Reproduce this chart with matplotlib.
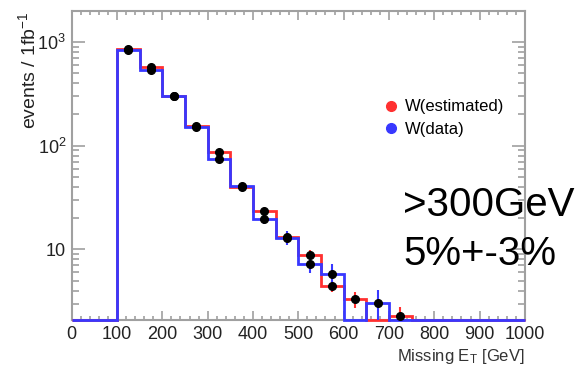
import matplotlib
matplotlib.use('Agg')
import matplotlib.pyplot as plt
from matplotlib.lines import Line2D
from matplotlib.ticker import FixedLocator, FixedFormatter, LogLocator, MultipleLocator, NullFormatter
import numpy as np

plt.rcParams['font.family'] = ['Liberation Sans', 'DejaVu Sans']
plt.rcParams['mathtext.fontset'] = 'custom'
plt.rcParams['mathtext.rm'] = 'Liberation Sans'
plt.rcParams['mathtext.default'] = 'regular'

# 50 GeV bins from 0 to 1000
edges = np.arange(0, 1050, 50)
estimated = [0, 0, 850, 575, 301, 156, 87, 40, 23.4, 13.2, 8.9, 4.4, 3.3, 0, 2.3, 0, 0, 0, 0, 0]
estimated_err = [0, 0, 30, 18, 9, 5, 3, 1.6, 1.2, 0.9, 1.0, 0.5, 0.6, 0, 0.5, 0, 0, 0, 0, 0]
data = [0, 0, 830, 531, 301, 151, 74, 41, 19.6, 12.9, 7.3, 5.75, 0, 3.05, 0, 0, 0, 0, 0, 0]
data_err = [0, 0, 30, 20, 10, 6, 5, 2.5, 1.9, 2.0, 1.4, 1.5, 0, 1.0, 0, 0, 0, 0, 0, 0]

ymin, ymax = 2.07, 1980
red = '#ff3030'
blue = '#3838ff'
frame = '#a0a0a0'

fig = plt.figure(figsize=(5.84, 3.69), dpi=100)
ax = fig.add_axes([0.1228, 0.132, 0.776, 0.838])
ax.set_yscale('log')
ax.set_xlim(0, 1000)
ax.set_ylim(ymin, ymax)

est = np.array(estimated, dtype=float)
dat = np.array(data, dtype=float)
ax.stairs(np.where(est > 0, est, ymin), edges, baseline=None, color=red, lw=2, clip_on=False, zorder=2)
ax.stairs(np.where(dat > 0, dat, ymin), edges, baseline=None, color=blue, lw=2, clip_on=False, zorder=3)

centers = (edges[:-1] + edges[1:]) / 2
for vals, errs, col in [(est, np.array(estimated_err), red), (dat, np.array(data_err), blue)]:
    m = vals > 0
    ax.errorbar(centers[m], vals[m], yerr=errs[m], fmt='o', color='black', ms=5.5,
                ecolor=col, elinewidth=1.5, capsize=0, zorder=4)

for s in ax.spines.values():
    s.set_color(frame)
    s.set_linewidth(1.5)
    s.set_zorder(1)

ax.xaxis.set_major_locator(MultipleLocator(100))
ax.xaxis.set_minor_locator(MultipleLocator(20))
ax.yaxis.set_major_locator(FixedLocator([10, 100, 1000]))
ax.yaxis.set_major_formatter(FixedFormatter(['10', '$10^2$', '$10^3$']))
ax.yaxis.set_minor_locator(LogLocator(base=10, subs=np.arange(2, 10)))
ax.yaxis.set_minor_formatter(NullFormatter())
ax.tick_params(which='both', direction='in', top=True, right=True, color=frame, width=1.2)
ax.tick_params(axis='x', which='major', length=6.5, labelsize=13, pad=4, labelcolor='#222222')
ax.tick_params(axis='x', which='minor', length=3.2)
ax.tick_params(axis='y', which='major', length=9.4, labelsize=13, pad=4, labelcolor='#222222')
ax.tick_params(axis='y', which='minor', length=5)

fig.text(0.048, 0.97, 'events / 1fb$^{-1}$', rotation=90, ha='center', va='top', fontsize=14, color='#222222')
ax.set_xlabel('Missing E$_T$ [GeV]', fontsize=12, color='#333333', ha='right', x=1.0, labelpad=3)

handles = [Line2D([], [], ls='none', marker='o', color=red, ms=7),
           Line2D([], [], ls='none', marker='o', color=blue, ms=7)]
fig.legend(handles, ['W(estimated)', 'W(data)'], loc='upper left',
           bbox_to_anchor=(382.7 / 584, 1 - 99.5 / 369), frameon=False, fontsize=12,
           borderpad=0, borderaxespad=0, handlelength=1, handletextpad=0.35, labelspacing=0.44)

fig.text(403 / 584, 1 - 216 / 369, '>300GeV', fontsize=29, ha='left', va='baseline')
fig.text(403 / 584, 1 - 265 / 369, '5%+-3%', fontsize=29, ha='left', va='baseline')

fig.savefig('out.png', dpi=100)
